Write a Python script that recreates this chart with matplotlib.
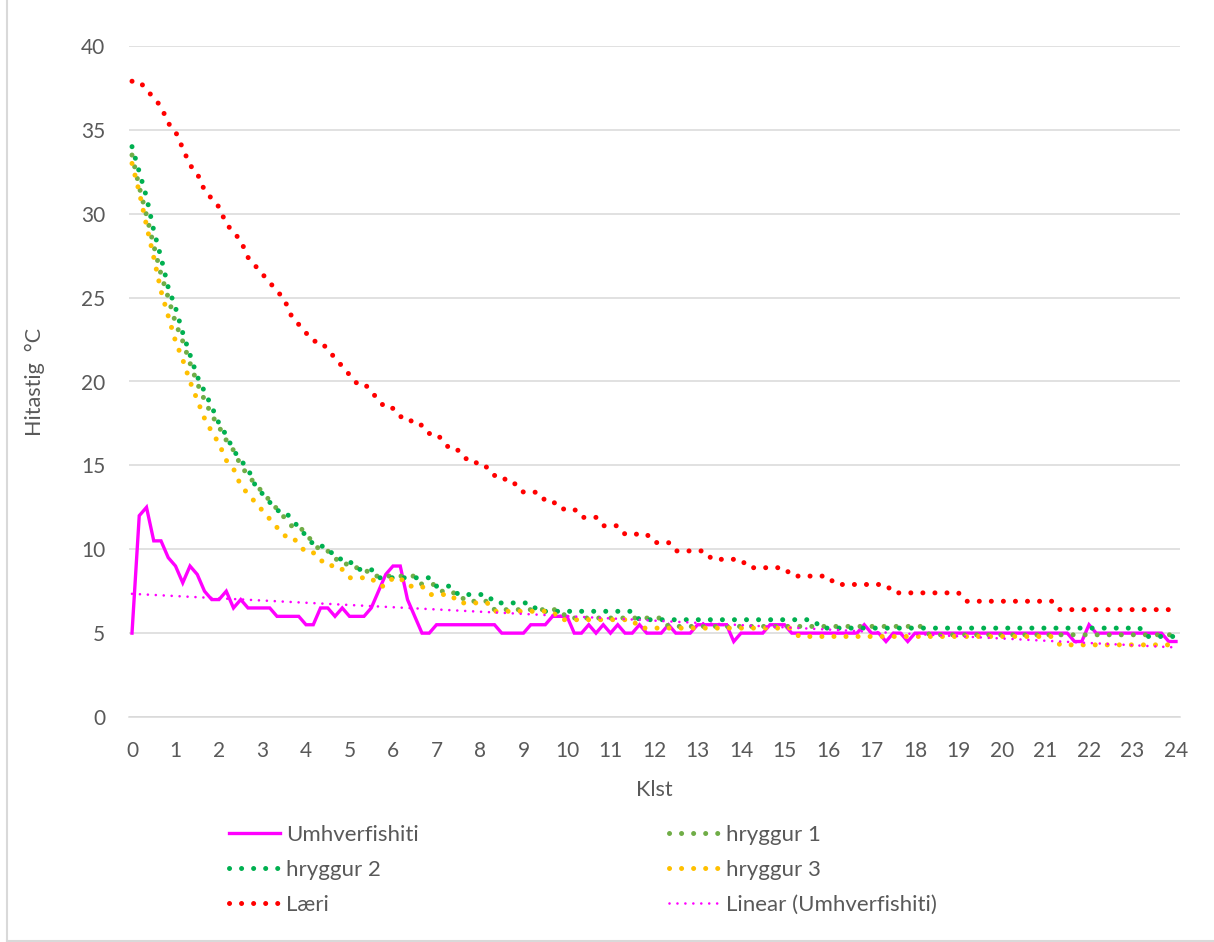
"""
Kólnun: hitastig í skrokk (hryggur 1-3, læri) og umhverfishiti yfir 24 klst.
"""
import numpy as np
import matplotlib
matplotlib.use("Agg")
import matplotlib.pyplot as plt
from matplotlib.lines import Line2D

# 10 min mælingar, 0 til 24 klst
hours = np.arange(145) / 6.0
x_ticks = list(range(0, 25))
y_ticks = list(range(0, 41, 5))

umhverfishiti = (
    [5, 12, 12.5, 10.5, 10.5, 9.5, 9, 8, 9, 8.5, 7.5, 7, 7, 7.5, 6.5, 7, 6.5, 6.5, 6.5, 6.5,
     6, 6, 6, 6, 5.5, 5.5, 6.5, 6.5, 6, 6.5, 6, 6, 6, 6.5, 7.5, 8.5, 9, 9, 7, 6, 5, 5]
    + [5.5] * 9 + [5] * 4 + [5.5] * 3 + [6] * 3
    + [5, 5, 5.5, 5, 5.5, 5, 5.5, 5, 5, 5.5, 5, 5, 5, 5.5, 5, 5, 5]
    + [5.5] * 5 + [4.5] + [5] * 4 + [5.5] * 3 + [5] * 10
    + [5.5, 5, 5, 4.5, 5, 5, 4.5] + [5] * 22 + [4.5, 4.5, 5.5] + [5] * 10 + [4.5, 4.5]
)

hryggur1 = (
    [33.5, 31.6, 29.9, 28.1, 26.4, 25.0, 23.5, 22.4, 21.1, 19.9, 18.9, 18.0, 17.3, 16.5,
     15.9, 15.0, 14.4, 13.9, 13.4, 12.9, 12.4, 11.9, 11.4, 11.4, 10.9, 10.4, 9.9, 9.9,
     9.4, 9.4, 8.9, 8.9, 8.9]
    + [8.4] * 7 + [7.9] * 3 + [7.4] * 3 + [6.9] * 4 + [6.4] * 10
    + [5.9] * 14 + [5.4] * 36 + [4.9] * 35
)

hryggur2 = (
    [34.0, 32.5, 31.0, 29.0, 27.4, 25.6, 24.4, 22.9, 21.6, 20.3, 19.4, 18.5, 17.5, 16.8,
     15.9, 15.3, 14.8, 13.8, 13.3, 12.8, 12.3, 12.3, 11.8, 11.3, 10.8, 10.3, 10.3, 9.8,
     9.8, 9.3, 9.3, 8.8, 8.8, 8.8]
    + [8.3] * 8 + [7.8] * 3 + [7.3] * 5 + [6.8] * 6 + [6.3] * 14
    + [5.8] * 25 + [5.3] * 45 + [4.8] * 5
)

hryggur3 = (
    [33.0, 31.3, 29.3, 27.4, 25.4, 23.9, 22.4, 21.3, 20.0, 18.9, 17.8, 17.0, 16.3, 15.3,
     14.8, 13.8, 13.3, 12.8, 12.3, 11.8, 11.3, 10.8, 10.8, 10.3, 9.8, 9.8, 9.3, 9.3,
     8.8, 8.8, 8.3, 8.3, 8.3, 8.3, 7.8, 7.8, 8.3, 8.3, 7.8, 7.8, 7.8]
    + [7.3] * 4 + [6.8] * 5 + [6.3] * 9 + [5.8] * 11
    + [5.3] * 22 + [4.8] * 36 + [4.3] * 17
)

laeri = (
    [37.9, 37.9, 37.4, 36.9, 36.4, 35.4, 34.9, 33.9, 32.9, 32.4, 31.4, 30.9, 30.4, 29.4,
     28.9, 28.4, 27.4, 26.9, 26.4, 25.9, 25.4, 24.9, 23.9, 23.4, 22.9, 22.4, 22.4, 21.9,
     21.4, 20.9, 20.4, 19.9, 19.9, 19.4, 18.9, 18.4, 18.4, 17.9, 17.9, 17.4, 17.4, 16.9,
     16.9, 16.4, 15.9, 15.9, 15.4, 15.4, 14.9, 14.9, 14.4, 14.4, 13.9, 13.9, 13.4, 13.4,
     13.4, 12.9, 12.9, 12.4, 12.4, 12.4, 11.9, 11.9, 11.9, 11.4, 11.4, 11.4, 10.9, 10.9,
     10.9, 10.9, 10.4, 10.4, 10.4, 9.9, 9.9, 9.9, 9.9, 9.9, 9.4, 9.4, 9.4, 9.4, 9.4]
    + [8.9] * 6 + [8.4] * 6 + [7.9] * 8 + [7.4] * 10 + [6.9] * 13 + [6.4] * 17
)

FONT = ["Lato", "DejaVu Sans"]
TXT = "#595959"
GRID = "#D9D9D9"

plt.rcParams["font.family"] = FONT


def dotted(ax, y, color, label):
    ln, = ax.plot(hours, y, color=color, lw=3.6, linestyle=(0, (0.01, 2.4)),
                  dash_capstyle="round", solid_capstyle="round", label=label)
    return ln


def main():
    fig = plt.figure(figsize=(12.14, 9.42), dpi=100)
    ax = fig.add_axes([129 / 1214, 1 - 717 / 942, (1180 - 129) / 1214, (717 - 46) / 942])

    h_u, = ax.plot(hours, umhverfishiti, color="#FF00FF", lw=2.4, solid_joinstyle="miter",
                   label="Umhverfishiti")
    h_1 = dotted(ax, hryggur1, "#70AD47", "hryggur 1")
    h_2 = dotted(ax, hryggur2, "#00B050", "hryggur 2")
    h_3 = dotted(ax, hryggur3, "#FFC000", "hryggur 3")
    h_l = dotted(ax, laeri, "#FF0000", "Læri")

    # linuleg leitnilina eins og i Excel
    idx = np.arange(1, len(umhverfishiti) + 1)
    k, m = np.polyfit(idx, umhverfishiti, 1)
    h_t, = ax.plot(hours, k * idx + m, color="#FF00FF", lw=1.9, linestyle=(0, (0.01, 3.0)),
                   dash_capstyle="round", label="Linear (Umhverfishiti)")

    ax.set_xlim(-0.069, 24.092)
    ax.set_ylim(0, 40)
    ax.set_xticks(x_ticks)
    ax.set_yticks(y_ticks)
    ax.grid(axis="y", color=GRID, lw=1.1)
    ax.set_axisbelow(True)
    for side in ["top", "right", "left"]:
        ax.spines[side].set_visible(False)
    ax.spines["bottom"].set_color(GRID)
    ax.spines["bottom"].set_linewidth(1.1)
    ax.tick_params(axis="both", length=0, labelsize=15, labelcolor=TXT)
    ax.tick_params(axis="y", pad=17)
    ax.tick_params(axis="x", pad=17)

    ax.set_xlabel("Klst", fontsize=15.5, color=TXT)
    ax.xaxis.set_label_coords(0.5, -(790 - 717) / 671, transform=ax.transAxes)
    ax.xaxis.label.set_va("center")
    ax.set_ylabel("Hitastig  °C", fontsize=15.5, color=TXT)
    ax.yaxis.set_label_coords(-(129 - 35) / 1051, 0.5)
    ax.yaxis.label.set_va("center")

    handles = [h_u, h_2, h_l, h_1, h_3, h_t]
    labels = [h.get_label() for h in handles]
    leg = fig.legend(handles, labels, ncol=2, loc="upper left",
                     bbox_to_anchor=(229 / 1214, 1 - 825 / 942), frameon=False,
                     fontsize=16, handlelength=2.3, handletextpad=0.28,
                     columnspacing=11.25, labelspacing=0.68, borderpad=0, borderaxespad=0)
    for t in leg.get_texts():
        t.set_color(TXT)

    # rammi utan um grafid
    fig.add_artist(Line2D([7 / 1214, 7 / 1214], [0, 1], color=GRID, lw=1.5))
    fig.add_artist(Line2D([7 / 1214, 1], [1.5 / 942, 1.5 / 942], color=GRID, lw=1.5))

    fig.savefig("out.png", dpi=100)
    plt.close(fig)


if __name__ == "__main__":
    main()
